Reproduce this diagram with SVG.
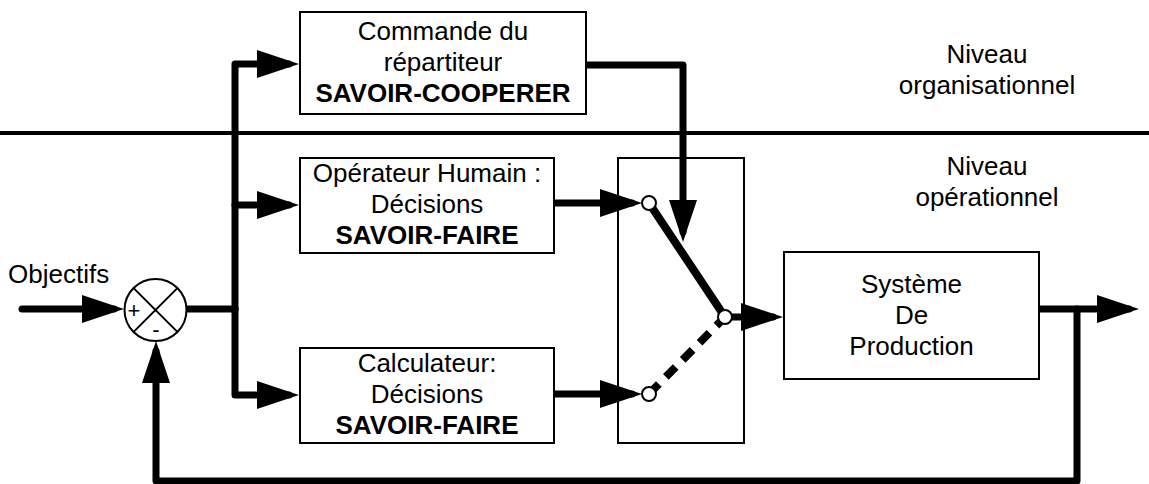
<svg xmlns="http://www.w3.org/2000/svg" width="1149" height="484" viewBox="0 0 1149 484">
<style>
.box{fill:#fff;stroke:#000;stroke-width:2}
.t{font-family:"Liberation Sans",Arial,sans-serif;font-size:26px;fill:#000;text-anchor:middle}
.b{font-weight:bold}
.w{fill:none;stroke:#000;stroke-width:7;stroke-linecap:round;stroke-linejoin:round}
.sw{fill:none;stroke:#000;stroke-width:8}
.pin{fill:#fff;stroke:#000;stroke-width:2}
</style>
<defs>
<marker id="ah" markerUnits="userSpaceOnUse" markerWidth="44" markerHeight="28" refX="32" refY="14" orient="auto" viewBox="0 0 44 28">
<path d="M0,0 L42,14 L0,28 z" fill="#000"/>
</marker>
</defs>
<rect width="1149" height="484" fill="#fff"/>
<line id="separator" x1="0" y1="133" x2="1149" y2="133" stroke="#000" stroke-width="4"/>
<g id="labels">
<text class="t" x="987" y="63">Niveau</text>
<text class="t" x="987" y="94">organisationnel</text>
<text class="t" x="987" y="175">Niveau</text>
<text class="t" x="987" y="206">opérationnel</text>
<text class="t" x="8" y="283" style="text-anchor:start">Objectifs</text>
</g>
<g id="connectors">
<path class="w" d="M22,309 H114" marker-end="url(#ah)"/>
<path class="w" d="M187,309 H235"/>
<path class="w" d="M235,309 V64 H289" marker-end="url(#ah)"/>
<path class="w" d="M235,205 H289" marker-end="url(#ah)"/>
<path class="w" d="M235,309 V395 H289" marker-end="url(#ah)"/>
<path class="w" d="M586,65 H683 V232" marker-end="url(#ah)"/>
<path class="w" d="M554,203 H632" marker-end="url(#ah)"/>
<path class="w" d="M554,394 H632" marker-end="url(#ah)"/>
<path class="w" d="M725,317 H773" marker-end="url(#ah)"/>
<path class="w" d="M1039,309 H1129" marker-end="url(#ah)"/>
<path class="w" d="M1077,309 V481 H156 V351" marker-end="url(#ah)"/>
</g>
<g id="sum">
<circle cx="155.5" cy="310" r="31" fill="#fff" stroke="#000" stroke-width="2"/>
<path d="M133.6,288.1 L177.4,331.9 M177.4,288.1 L133.6,331.9" stroke="#000" stroke-width="2"/>
<text x="134" y="318" style="font-family:'Liberation Sans',Arial,sans-serif;font-size:22px;text-anchor:middle">+</text>
<text x="156" y="337" style="font-family:'Liberation Sans',Arial,sans-serif;font-size:22px;text-anchor:middle">-</text>
</g>
<g id="repartiteur">
<rect class="box" x="300" y="12" width="286" height="102"/>
<text class="t" x="443" y="40">Commande du</text>
<text class="t" x="443" y="71">répartiteur</text>
<text class="t b" x="443" y="102">SAVOIR-COOPERER</text>
</g>
<g id="operateur">
<rect class="box" x="300" y="158" width="254" height="95"/>
<text class="t" x="427" y="182">Opérateur Humain :</text>
<text class="t" x="427" y="213">Décisions</text>
<text class="t b" x="427" y="244">SAVOIR-FAIRE</text>
</g>
<g id="calculateur">
<rect class="box" x="300" y="348" width="254" height="95"/>
<text class="t" x="427" y="372">Calculateur:</text>
<text class="t" x="427" y="403">Décisions</text>
<text class="t b" x="427" y="434">SAVOIR-FAIRE</text>
</g>
<g id="commutateur">
<rect x="618" y="158" width="126" height="285" fill="none" stroke="#000" stroke-width="2"/>
<line class="sw" x1="649" y1="203" x2="725" y2="317"/>
<line class="sw" x1="649" y1="394" x2="725" y2="317" stroke-dasharray="14 10"/>
<circle class="pin" cx="649" cy="203" r="7"/>
<circle class="pin" cx="649" cy="394" r="7"/>
<circle class="pin" cx="725" cy="317" r="7"/>
</g>
<g id="systeme">
<rect class="box" x="784" y="252" width="255" height="127"/>
<text class="t" x="911.5" y="293">Système</text>
<text class="t" x="911.5" y="324">De</text>
<text class="t" x="911.5" y="355">Production</text>
</g>
</svg>
